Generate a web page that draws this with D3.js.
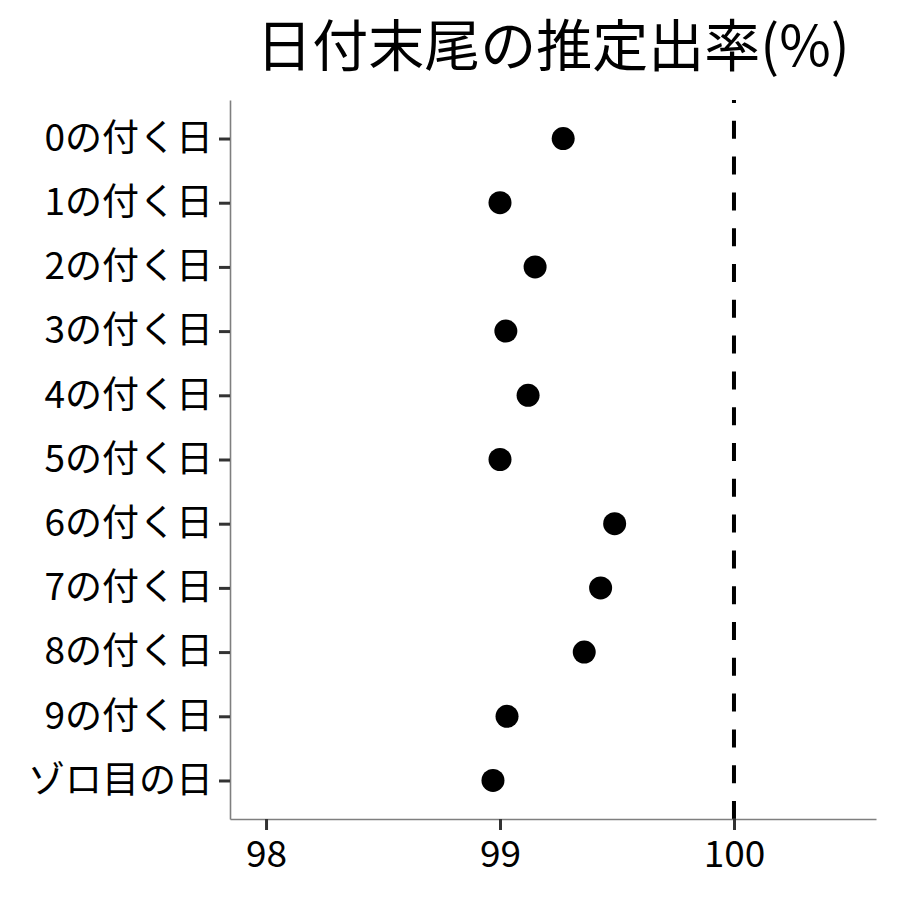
<!DOCTYPE html>
<html>
  <head>
    <meta charset="utf-8">
    <title>日付末尾の推定出率</title>
    <script src="https://cdn.jsdelivr.net/npm/d3@7"></script>
    <style>
      body { margin: 0; background: #fff; }
      svg { display: block; font-family: "Noto Sans CJK JP", "Noto Sans", sans-serif; }
      .axis path { stroke: #7f7f7f; stroke-width: 1.6; }
      .axis line { stroke: #333; stroke-width: 3; }
      .axis text { fill: #000; font-size: 37px; font-family: "Noto Sans CJK JP", "Noto Sans", sans-serif; }
    </style>
  </head>

  <body>
    <svg id="chart" width="900" height="900"></svg>

    <script>
      // data
      categories = ["0の付く日", "1の付く日", "2の付く日", "3の付く日", "4の付く日",
        "5の付く日", "6の付く日", "7の付く日", "8の付く日", "9の付く日", "ゾロ目の日"];
      rates = [99.27, 99.00, 99.15, 99.025, 99.12, 99.00, 99.49, 99.43, 99.36, 99.03, 98.97];
      xTicks = [98, 99, 100];
      refLine = 100;
      xLimits = [97.846, 100.607];

      chart = d3.select("#chart");
      margin = { top: 100, right: 24, bottom: 81, left: 230 };
      width = 900;
      height = 900;

      x = d3.scaleLinear()
        .domain(xLimits)
        .range([margin.left, width - margin.right]);
      y = d3.scalePoint()
        .domain(categories)
        .range([margin.top, height - margin.bottom])
        .padding(0.6);

      // title
      chart.append("text")
        .attr("x", (margin.left + width - margin.right) / 2)
        .attr("y", 66)
        .attr("text-anchor", "middle")
        .style("font-size", "56px")
        .text("日付末尾の推定出率(%)");

      // reference line, drawn bottom-up
      chart.append("line")
        .attr("x1", x(refLine))
        .attr("x2", x(refLine))
        .attr("y1", height - margin.bottom)
        .attr("y2", margin.top)
        .attr("stroke", "#000")
        .attr("stroke-width", 4)
        .attr("stroke-dasharray", "18 17.8");

      // axes
      xAxis = d3.axisBottom(x)
        .tickValues(xTicks)
        .tickFormat(d3.format("d"))
        .tickSizeInner(11)
        .tickSizeOuter(0)
        .tickPadding(7);
      yAxis = d3.axisLeft(y)
        .tickSizeInner(11)
        .tickSizeOuter(0)
        .tickPadding(6);

      chart.append("g")
        .attr("class", "axis")
        .attr("transform", "translate(0," + (height - margin.bottom) + ")")
        .call(xAxis)
        .call(g => g.selectAll("text").attr("dy", "0.8em"));

      chart.append("g")
        .attr("class", "axis")
        .attr("transform", "translate(" + margin.left + ",0)")
        .call(yAxis);

      // points
      chart.append("g")
        .selectAll("circle")
          .data(categories)
        .enter().append("circle")
          .attr("cx", (d, i) => x(rates[i]))
          .attr("cy", d => y(d))
          .attr("r", 11.5)
          .attr("fill", "#000");
    </script>
  </body>
</html>
